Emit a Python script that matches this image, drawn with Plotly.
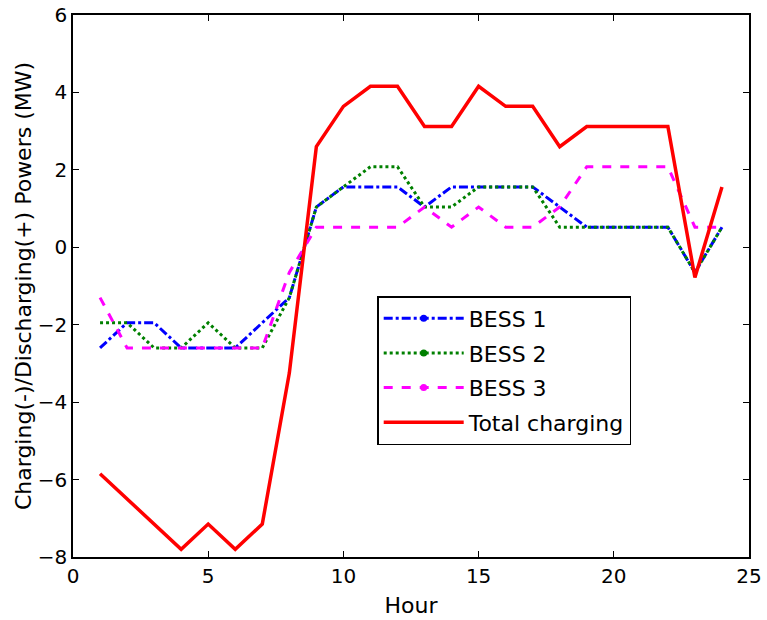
import plotly.graph_objects as go

hours = list(range(1, 25))
bess1 = [-2.6, -1.95, -1.95, -2.6, -2.6, -2.6, -1.95, -1.3, 1.04, 1.56, 1.56, 1.56,
         1.04, 1.56, 1.56, 1.56, 1.56, 1.04, 0.52, 0.52, 0.52, 0.52, -0.65, 0.52]
bess2 = [-1.95, -1.95, -2.6, -2.6, -1.95, -2.6, -2.6, -1.3, 1.04, 1.56, 2.08, 2.08,
         1.04, 1.04, 1.56, 1.56, 1.56, 0.52, 0.52, 0.52, 0.52, 0.52, -0.65, 0.52]
bess3 = [-1.3, -2.6, -2.6, -2.6, -2.6, -2.6, -2.6, -0.65, 0.52, 0.52, 0.52, 0.52,
         1.04, 0.52, 1.04, 0.52, 0.52, 1.04, 2.08, 2.08, 2.08, 2.08, 0.52, 0.52]
total = [-5.85, -6.5, -7.15, -7.8, -7.15, -7.8, -7.15, -3.25, 2.6, 3.64, 4.16, 4.16,
         3.12, 3.12, 4.16, 3.64, 3.64, 2.6, 3.12, 3.12, 3.12, 3.12, -0.78, 1.56]
x_ticks = [0, 5, 10, 15, 20, 25]
y_ticks = [-8, -6, -4, -2, 0, 2, 4, 6]

series = [
    ("BESS 1", bess1, "#0000FF", "dashdot", 3, True),
    ("BESS 2", bess2, "#008000", "dot", 3, True),
    ("BESS 3", bess3, "#FF00FF", "dash", 3, True),
    ("Total charging", total, "#FF0000", "solid", 3.5, False),
]

FONT = "DejaVu Sans, Liberation Sans, Arial"

fig = go.Figure()
for name, vals, color, dash, w, mk in series:
    fig.add_trace(go.Scatter(x=hours, y=vals, mode="lines", name=name,
                             line=dict(color=color, dash=dash, width=w),
                             showlegend=False))
for name, vals, color, dash, w, mk in series:
    fig.add_trace(go.Scatter(x=[None], y=[None], mode="lines+markers" if mk else "lines",
                             name=name, legendgroup=name,
                             line=dict(color=color, dash=dash, width=w),
                             marker=dict(color=color, size=7),
                             showlegend=True))

axis_common = dict(showline=True, linecolor="black", linewidth=1.5, mirror="ticks",
                   ticks="inside", ticklen=6, tickcolor="black", tickwidth=1,
                   showgrid=False, zeroline=False, automargin=False,
                   tickfont=dict(family=FONT, size=20, color="black"))

fig.update_layout(
    width=767, height=620,
    margin=dict(l=73, r=18, t=15, b=63),
    paper_bgcolor="white", plot_bgcolor="white",
    font=dict(family=FONT, color="black"),
    xaxis=dict(range=[0, 25], tickvals=x_ticks,
               title=dict(text="Hour", font=dict(size=22), standoff=11), **axis_common),
    yaxis=dict(range=[-8, 6], tickvals=y_ticks,
               title=dict(text="Charging(-)/Discharging(+) Powers (MW)", font=dict(size=22), standoff=0),
               **axis_common),
    legend=dict(x=0.45, y=0.4815, xanchor="left", yanchor="top",
                bordercolor="black", borderwidth=1.5, bgcolor="white",
                font=dict(family=FONT, size=22, color="black"),
                tracegroupgap=3, itemwidth=80),
)

fig.write_html("out.html", config={"displayModeBar": False},
               post_script="document.body.style.margin='0';")
